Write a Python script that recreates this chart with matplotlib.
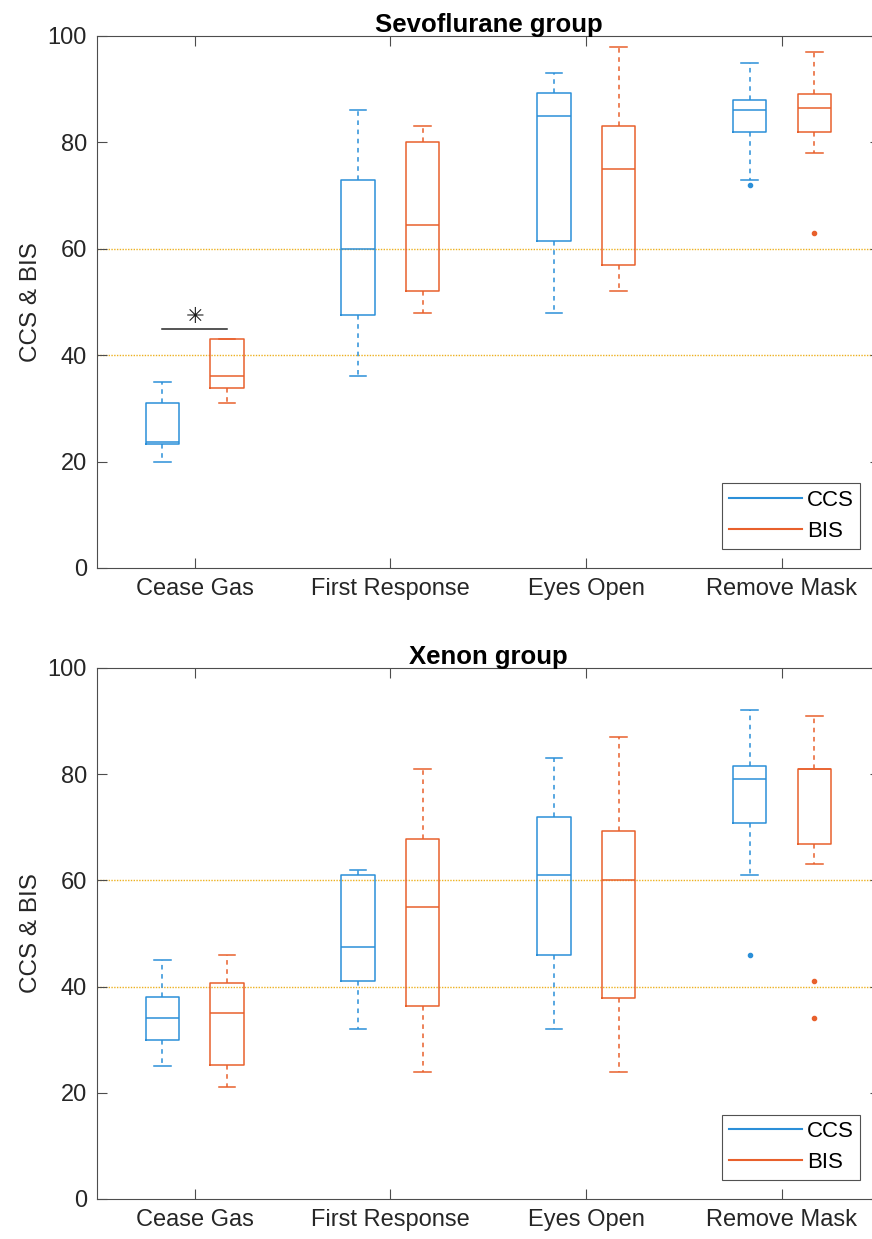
import matplotlib
matplotlib.use("Agg")
import matplotlib.pyplot as plt
from matplotlib.lines import Line2D

plt.rcParams["font.family"] = ["Liberation Sans", "DejaVu Sans"]

categories = ["Cease Gas", "First Response", "Eyes Open", "Remove Mask"]
series = ["CCS", "BIS"]
colors = {"CCS": "#2b8fd8", "BIS": "#e8602c"}

# Sevoflurane group: per category [CCS, BIS]
sevo_whislo = [[20, 31], [36, 48], [48, 52], [73, 78]]
sevo_q1 = [[23.3, 33.8], [47.5, 52], [61.5, 57], [82, 82]]
sevo_med = [[23.6, 36], [60, 64.5], [85, 75], [86, 86.5]]
sevo_q3 = [[31, 43], [73, 80], [89.3, 83], [88, 89]]
sevo_whishi = [[35, 43], [86, 83], [93, 98], [95, 97]]
sevo_fliers = [[[], []], [[], []], [[], []], [[72], [63]]]

# Xenon group
xe_whislo = [[25, 21], [32, 24], [32, 24], [61, 63]]
xe_q1 = [[30, 25.2], [41, 36.3], [46, 37.8], [70.8, 66.8]]
xe_med = [[34, 35], [47.5, 55], [61, 60], [79, 81]]
xe_q3 = [[38, 40.6], [61, 67.8], [72, 69.3], [81.5, 81]]
xe_whishi = [[45, 46], [62, 81], [83, 87], [92, 91]]
xe_fliers = [[[], []], [[], []], [[], []], [[46], [41, 34]]]

ref_lines = [40, 60]
star_pair = (0, 45)  # category index, bar height


def draw_group(ax, title, whislo, q1, med, q3, whishi, fliers, star=None):
    for j, name in enumerate(series):
        stats = []
        for i in range(len(categories)):
            stats.append(dict(whislo=whislo[i][j], q1=q1[i][j], med=med[i][j],
                              q3=q3[i][j], whishi=whishi[i][j], fliers=fliers[i][j]))
        offset = -0.165 if j == 0 else 0.165
        pos = [i + 1 + offset for i in range(len(categories))]
        c = colors[name]
        ax.bxp(stats, positions=pos, widths=0.17, showfliers=True,
               boxprops=dict(color=c, lw=1.1),
               medianprops=dict(color=c, lw=1.1),
               whiskerprops=dict(color=c, lw=1.1, linestyle=(0, (3, 3))),
               capprops=dict(color=c, lw=1.1),
               capwidths=0.085,
               flierprops=dict(marker="o", markersize=3, markerfacecolor=c,
                               markeredgecolor=c, linestyle="none"))
    for y in ref_lines:
        ax.axhline(y, color="#EDB120", lw=1.0, linestyle=(0, (1, 1)), zorder=0)
    if star is not None:
        i, h = star
        ax.plot([i + 1 - 0.165, i + 1 + 0.165], [h, h], color="#262626", lw=1.1)
        ax.text(i + 1, h + 0.2, "✳", ha="center", va="bottom", fontsize=16,
                color="#1a1a1a", family=["DejaVu Sans"])
    ax.set_xlim(0.5, 4.5)
    ax.set_ylim(0, 100)
    ax.set_xticks(range(1, 5))
    ax.set_xticklabels(categories)
    ax.set_yticks(range(0, 101, 20))
    ax.tick_params(direction="in", top=True, right=True, length=7,
                   labelsize=17, color="#4d4d4d", labelcolor="#262626", pad=7)
    for s in ax.spines.values():
        s.set_color("#4d4d4d")
    ax.set_ylabel("CCS & BIS", fontsize=17.5, color="#262626", labelpad=4)
    ax.set_title(title, fontsize=18.5, fontweight="bold", pad=3)
    handles = [Line2D([0], [0], color=colors[n], lw=1.5) for n in series]
    leg = ax.legend(handles, series, loc="lower right", fontsize=16,
                    frameon=True, fancybox=False, edgecolor="#262626",
                    handlelength=3.3, handletextpad=0.2, borderpad=0.3,
                    labelspacing=0.45, borderaxespad=0,
                    bbox_to_anchor=(0.975, 0.036))
    leg.get_frame().set_linewidth(0.8)


fig = plt.figure(figsize=(8.72, 12.39), dpi=100)
ax1 = fig.add_axes([0.111, 0.5416, 0.898, 0.4294])
ax2 = fig.add_axes([0.111, 0.0323, 0.898, 0.4286])
draw_group(ax1, "Sevoflurane group", sevo_whislo, sevo_q1, sevo_med, sevo_q3,
           sevo_whishi, sevo_fliers, star=star_pair)
draw_group(ax2, "Xenon group", xe_whislo, xe_q1, xe_med, xe_q3, xe_whishi, xe_fliers)

fig.savefig("out.png", dpi=100)
